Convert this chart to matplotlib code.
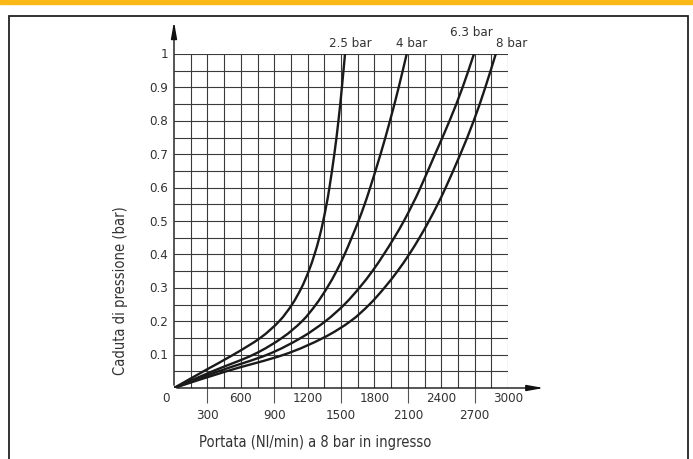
import numpy as np
import matplotlib.pyplot as plt
from matplotlib.patches import Rectangle, PathPatch
from matplotlib.path import Path

# Curve data (pressure drop in bar, flow in Nl/min)
dp = [0, 0.05, 0.1, 0.15, 0.2, 0.25, 0.3, 0.35, 0.4, 0.45, 0.5, 0.55, 0.6, 0.7, 0.8, 0.9, 1.0]
q_25 = [0, 265, 535, 775, 945, 1060, 1145, 1210, 1262, 1305, 1340, 1370, 1396, 1440, 1477, 1508, 1536]
q_40 = [0, 345, 714, 970, 1150, 1275, 1375, 1460, 1532, 1596, 1657, 1712, 1762, 1855, 1940, 2018, 2090]
q_63 = [0, 400, 840, 1140, 1360, 1530, 1665, 1782, 1884, 1978, 2065, 2142, 2214, 2345, 2475, 2592, 2694]
q_80 = [0, 470, 990, 1340, 1585, 1755, 1890, 2008, 2112, 2205, 2290, 2368, 2440, 2572, 2692, 2796, 2890]
curve_labels = ['2.5 bar', '4 bar', '6.3 bar', '8 bar']
label_x = [1581, 2138, 2668, 3035]
label_y = [1.033, 1.033, 1.066, 1.033]

x_top_ticks = [0, 600, 1200, 1800, 2400, 3000]
x_bot_ticks = [300, 900, 1500, 2100, 2700]
y_ticks = [0.1, 0.2, 0.3, 0.4, 0.5, 0.6, 0.7, 0.8, 0.9, 1]


def smooth_path(xs, ys):
    # Catmull-Rom through the read points, as cubic Bezier segments
    p = np.column_stack([xs, ys]).astype(float)
    p = np.vstack([p[0] - (p[1] - p[0]), p, p[-1] + (p[-1] - p[-2])])
    verts = [p[1]]
    codes = [Path.MOVETO]
    for i in range(1, len(p) - 2):
        c1 = p[i] + (p[i + 1] - p[i - 1]) / 6
        c2 = p[i + 1] - (p[i + 2] - p[i]) / 6
        verts += [c1, c2, p[i + 1]]
        codes += [Path.CURVE4] * 3
    return Path(verts, codes)


W, H = 693, 460
fig = plt.figure(figsize=(W / 100, H / 100), dpi=100)
plt.rcParams['font.family'] = ['DejaVu Sans']
font = dict(family='DejaVu Sans', stretch='condensed', fontsize=9.5, color='#333333')
lab_font = dict(font, fontsize=10.5)

# orange band and frame
fig.patches.append(Rectangle((0, 1 - 5 / H), 1, 5 / H, transform=fig.transFigure,
                             color='#fbb817', zorder=0))
fig.patches.append(Rectangle((9 / W, -0.05), (688 - 9) / W, 1.05 - 17 / H,
                             transform=fig.transFigure, fill=False,
                             edgecolor='#222222', lw=1.3, zorder=0))

x0, x1, y0, y1 = 174, 508, 389, 55
ax = fig.add_axes([x0 / W, 1 - y0 / H, (x1 - x0) / W, (y0 - y1) / H])
ax.set_xlim(0, 3000)
ax.set_ylim(0, 1)
for s in ax.spines.values():
    s.set_visible(False)
ax.set_xticks([])
ax.set_yticks([])
ax.patch.set_alpha(0)

# grid
gx = np.arange(150, 3001, 150)
gy = np.arange(0.05, 1.001, 0.05)
ax.vlines(gx, 0, 1, colors='#3a3a3a', lw=0.8, zorder=1)
ax.hlines(gy, 0, 3000, colors='#3a3a3a', lw=0.8, zorder=1)
ax.vlines(x_bot_ticks, -0.045, 0, colors='#555555', lw=0.8, clip_on=False)

# axes with arrows
ax.annotate('', xy=(1.115, 0), xytext=(0, 0), xycoords='axes fraction',
            arrowprops=dict(arrowstyle='-|>,head_length=1.0,head_width=0.18',
                            color='#111111', lw=1.0), annotation_clip=False)
ax.annotate('', xy=(0, 1.105), xytext=(0, 0), xycoords='axes fraction',
            arrowprops=dict(arrowstyle='-|>,head_length=1.0,head_width=0.18',
                            color='#111111', lw=1.0), annotation_clip=False)

# curves
for q in [q_25, q_40, q_63, q_80]:
    ax.add_patch(PathPatch(smooth_path(q, dp), facecolor='none', edgecolor='#1a1a1a',
                           lw=1.7, capstyle='round', zorder=3))

for lab, lx, ly in zip(curve_labels, label_x, label_y):
    ax.text(lx, ly, lab, ha='center', va='center', clip_on=False, **font)

# tick labels
for t in x_top_ticks:
    ax.text(t - (70 if t == 0 else 0), -0.027, str(t), ha='center', va='center', **font)
for t in x_bot_ticks:
    ax.text(t, -0.078, str(t), ha='center', va='center', **font)
for t in y_ticks:
    ax.text(-50, t, str(t), ha='right', va='center', **font)

fig.text(120 / W, 1 - 291 / H, 'Caduta di pressione (bar)', rotation=90,
         ha='center', va='center', **lab_font)
fig.text(315 / W, 1 - 443 / H, 'Portata (Nl/min) a 8 bar in ingresso',
         ha='center', va='center', **lab_font)

fig.savefig('out.png', dpi=100)
